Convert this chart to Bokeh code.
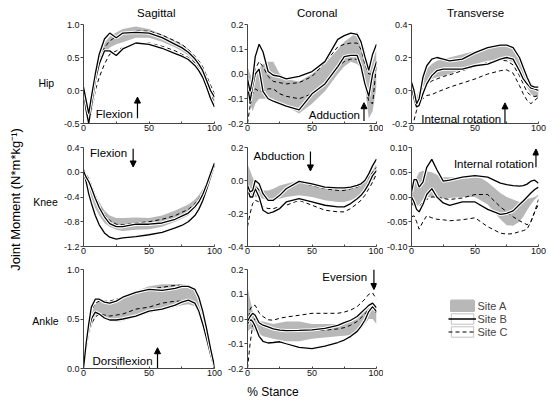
import numpy as np
from bokeh.plotting import figure
from bokeh.layouts import gridplot, row, column
from bokeh.models import (FixedTicker, PrintfTickFormatter, Label, Arrow, NormalHead,
                          Legend, LegendItem, Range1d)
from bokeh.core.validation import silence
from bokeh.core.validation.warnings import MISSING_RENDERERS
from bokeh.embed import file_html
from bokeh.resources import INLINE

silence(MISSING_RENDERERS, True)

# ---------------- data (% stance grid and joint moments) ----------------
stance = [0, 2, 4, 6, 9, 12, 16, 20, 25, 30, 40, 50, 60, 70, 75, 80, 85, 88, 91, 94, 97, 100]

# Hip sagittal
hip_sag_a_hi = [0.0, -0.15, -0.3, -0.05, 0.3, 0.52, 0.72, 0.82, 0.88, 0.93, 0.97, 0.93, 0.85, 0.75, 0.7, 0.63, 0.52, 0.45, 0.35, 0.22, 0.05, -0.1]
hip_sag_a_lo = [-0.1, -0.35, -0.45, -0.3, 0.1, 0.35, 0.55, 0.65, 0.7, 0.73, 0.8, 0.8, 0.74, 0.65, 0.6, 0.53, 0.42, 0.35, 0.25, 0.12, -0.05, -0.2]
hip_sag_b_hi = [0.05, -0.15, -0.35, -0.1, 0.25, 0.55, 0.78, 0.87, 0.8, 0.87, 0.88, 0.87, 0.8, 0.7, 0.65, 0.58, 0.48, 0.4, 0.3, 0.15, 0.0, -0.1]
hip_sag_b_lo = [0.0, -0.3, -0.5, -0.25, 0.15, 0.4, 0.6, 0.6, 0.53, 0.63, 0.72, 0.7, 0.64, 0.56, 0.52, 0.47, 0.38, 0.3, 0.2, 0.05, -0.12, -0.25]
hip_sag_c_hi = [-0.05, -0.2, -0.35, -0.2, 0.15, 0.45, 0.65, 0.75, 0.82, 0.86, 0.9, 0.9, 0.84, 0.75, 0.7, 0.62, 0.52, 0.45, 0.36, 0.22, 0.08, -0.05]
hip_sag_c_lo = [-0.1, -0.3, -0.45, -0.35, 0.0, 0.2, 0.4, 0.55, 0.6, 0.65, 0.72, 0.72, 0.67, 0.6, 0.55, 0.5, 0.42, 0.35, 0.25, 0.12, -0.05, -0.2]

# Hip coronal
hip_cor_a_hi = [0.03, 0.0, -0.02, 0.0, 0.02, 0.04, 0.05, 0.05, 0.0, -0.02, -0.03, 0.0, 0.04, 0.1, 0.13, 0.15, 0.17, 0.14, 0.1, 0.0, 0.05, 0.1]
hip_cor_a_lo = [-0.05, -0.12, -0.15, -0.12, -0.1, -0.1, -0.1, -0.1, -0.12, -0.13, -0.16, -0.12, -0.07, 0.0, 0.03, 0.05, 0.04, 0.02, -0.05, -0.18, -0.15, -0.05]
hip_cor_b_hi = [-0.02, -0.07, -0.02, 0.07, 0.12, 0.09, 0.01, -0.005, -0.01, -0.02, -0.01, 0.01, 0.05, 0.14, 0.155, 0.165, 0.16, 0.13, 0.07, 0.015, 0.08, 0.12]
hip_cor_b_lo = [-0.05, -0.11, -0.05, 0.0, 0.02, -0.07, -0.1, -0.11, -0.12, -0.13, -0.145, -0.08, -0.04, 0.03, 0.07, 0.075, 0.075, 0.03, -0.04, -0.09, 0.0, 0.05]
hip_cor_c_hi = [-0.08, -0.12, -0.05, 0.02, 0.05, 0.03, -0.01, -0.03, -0.035, -0.04, -0.035, -0.01, 0.045, 0.11, 0.12, 0.125, 0.125, 0.1, 0.04, 0.0, 0.0, 0.06]
hip_cor_c_lo = [-0.2, -0.13, -0.08, -0.06, -0.07, -0.07, -0.06, -0.06, -0.08, -0.09, -0.1, -0.08, -0.04, 0.03, 0.05, 0.06, 0.06, 0.04, -0.04, -0.11, -0.12, 0.04]

# Hip transverse
hip_tra_a_hi = [0.02, -0.02, -0.04, 0.0, 0.08, 0.13, 0.16, 0.18, 0.19, 0.2, 0.22, 0.24, 0.26, 0.27, 0.27, 0.26, 0.22, 0.17, 0.1, 0.05, 0.02, 0.01]
hip_tra_a_lo = [0.0, -0.04, -0.07, -0.05, 0.02, 0.05, 0.07, 0.08, 0.09, 0.1, 0.13, 0.16, 0.18, 0.19, 0.19, 0.17, 0.12, 0.07, 0.02, -0.02, -0.04, -0.04]
hip_tra_b_hi = [0.05, 0.0, -0.08, -0.05, 0.08, 0.15, 0.19, 0.2, 0.19, 0.18, 0.19, 0.23, 0.26, 0.275, 0.275, 0.26, 0.2, 0.14, 0.08, 0.03, 0.02, 0.02]
hip_tra_b_lo = [0.03, -0.05, -0.1, -0.09, -0.02, 0.04, 0.09, 0.12, 0.13, 0.13, 0.13, 0.15, 0.16, 0.19, 0.2, 0.19, 0.12, 0.07, 0.04, 0.015, 0.01, 0.0]
hip_tra_c_hi = [-0.02, -0.06, -0.07, -0.03, 0.02, 0.035, 0.058, 0.07, 0.085, 0.095, 0.12, 0.145, 0.17, 0.183, 0.18, 0.155, 0.09, 0.04, -0.01, -0.03, -0.037, -0.03]
hip_tra_c_lo = [-0.22, -0.18, -0.12, -0.08, -0.05, -0.03, -0.025, -0.01, 0.005, 0.02, 0.045, 0.07, 0.1, 0.12, 0.125, 0.105, 0.03, -0.02, -0.06, -0.08, -0.06, -0.04]

# Knee sagittal
knee_sag_a_hi = [0.0, -0.06, -0.12, -0.2, -0.35, -0.48, -0.62, -0.7, -0.74, -0.74, -0.73, -0.74, -0.7, -0.62, -0.57, -0.52, -0.44, -0.37, -0.27, -0.14, 0.0, 0.15]
knee_sag_a_lo = [-0.08, -0.2, -0.3, -0.42, -0.58, -0.7, -0.82, -0.88, -0.93, -0.95, -0.93, -0.92, -0.88, -0.8, -0.75, -0.7, -0.6, -0.52, -0.4, -0.25, -0.08, 0.1]
knee_sag_b_hi = [0.02, -0.08, -0.15, -0.25, -0.42, -0.57, -0.72, -0.83, -0.88, -0.88, -0.84, -0.84, -0.82, -0.76, -0.71, -0.66, -0.56, -0.48, -0.36, -0.2, -0.02, 0.15]
knee_sag_b_lo = [0.0, -0.15, -0.35, -0.5, -0.7, -0.85, -0.98, -1.05, -1.08, -1.06, -1.04, -1.01, -0.97, -0.9, -0.86, -0.8, -0.7, -0.6, -0.46, -0.28, -0.08, 0.12]
knee_sag_c_hi = [0.05, -0.03, -0.1, -0.2, -0.38, -0.52, -0.68, -0.78, -0.84, -0.85, -0.82, -0.8, -0.76, -0.7, -0.65, -0.6, -0.51, -0.43, -0.32, -0.17, 0.02, 0.18]
knee_sag_c_lo = [-0.05, -0.2, -0.32, -0.48, -0.68, -0.84, -0.97, -1.05, -1.08, -1.07, -1.03, -1.0, -0.97, -0.9, -0.85, -0.78, -0.68, -0.58, -0.44, -0.28, -0.07, 0.1]

# Knee coronal
knee_cor_a_hi = [0.1, 0.06, 0.02, -0.02, -0.05, -0.06, -0.06, -0.05, -0.03, -0.02, 0.0, -0.02, -0.04, -0.05, -0.05, -0.04, -0.03, -0.02, 0.0, 0.03, 0.06, 0.1]
knee_cor_a_lo = [-0.03, -0.08, -0.1, -0.1, -0.1, -0.11, -0.12, -0.12, -0.11, -0.1, -0.09, -0.1, -0.12, -0.13, -0.13, -0.12, -0.1, -0.09, -0.07, -0.04, 0.0, 0.05]
knee_cor_b_hi = [-0.03, -0.07, -0.06, 0.0, -0.02, -0.08, -0.12, -0.12, -0.09, -0.05, -0.005, -0.02, -0.04, -0.045, -0.045, -0.04, -0.03, -0.02, 0.0, 0.04, 0.09, 0.13]
knee_cor_b_lo = [-0.05, -0.1, -0.1, -0.05, -0.1, -0.18, -0.2, -0.19, -0.17, -0.13, -0.11, -0.13, -0.15, -0.16, -0.16, -0.14, -0.11, -0.09, -0.06, -0.02, 0.03, 0.06]
knee_cor_c_hi = [-0.08, -0.06, -0.04, -0.03, -0.06, -0.09, -0.12, -0.12, -0.09, -0.05, -0.01, -0.03, -0.05, -0.06, -0.06, -0.05, -0.04, -0.03, -0.01, 0.02, 0.05, 0.08]
knee_cor_c_lo = [-0.28, -0.2, -0.14, -0.12, -0.13, -0.16, -0.17, -0.17, -0.16, -0.15, -0.12, -0.15, -0.18, -0.19, -0.19, -0.17, -0.14, -0.12, -0.09, -0.05, -0.01, 0.04]

# Knee transverse
knee_tra_a_hi = [0.01, 0.025, 0.04, 0.05, 0.053, 0.052, 0.05, 0.045, 0.04, 0.04, 0.04, 0.046, 0.03, 0.008, 0.0, -0.005, -0.01, -0.008, -0.004, -0.002, 0.0, 0.005]
knee_tra_a_lo = [-0.01, -0.015, -0.02, -0.015, -0.005, 0.0, 0.0, -0.002, -0.003, -0.002, 0.0, 0.0, -0.015, -0.045, -0.057, -0.058, -0.05, -0.04, -0.027, -0.015, -0.005, 0.003]
knee_tra_b_hi = [0.01, 0.035, 0.035, 0.02, 0.03, 0.06, 0.076, 0.055, 0.032, 0.034, 0.04, 0.043, 0.04, 0.028, 0.025, 0.023, 0.022, 0.023, 0.026, 0.032, 0.034, 0.028]
knee_tra_b_lo = [0.0, -0.01, -0.025, -0.03, -0.015, 0.005, 0.017, 0.0, -0.012, -0.017, -0.01, -0.01, -0.025, -0.035, -0.033, -0.028, -0.015, -0.008, 0.0, 0.008, 0.015, 0.02]
knee_tra_c_hi = [-0.01, -0.02, -0.025, -0.02, -0.01, -0.005, 0.0, 0.0, -0.003, -0.005, -0.002, 0.005, 0.005, -0.02, -0.03, -0.04, -0.048, -0.052, -0.056, -0.05, -0.03, -0.005]
knee_tra_c_lo = [-0.04, -0.038, -0.05, -0.065, -0.05, -0.038, -0.042, -0.045, -0.046, -0.048, -0.046, -0.042, -0.06, -0.073, -0.075, -0.074, -0.07, -0.068, -0.065, -0.05, -0.03, -0.015]

# Ankle sagittal
ank_sag_a_hi = [0.0, 0.2, 0.4, 0.55, 0.65, 0.68, 0.66, 0.66, 0.68, 0.72, 0.78, 0.83, 0.85, 0.85, 0.85, 0.84, 0.8, 0.7, 0.55, 0.38, 0.2, 0.02]
ank_sag_a_lo = [0.0, 0.15, 0.3, 0.42, 0.53, 0.55, 0.5, 0.48, 0.47, 0.48, 0.52, 0.56, 0.59, 0.62, 0.64, 0.65, 0.63, 0.55, 0.42, 0.28, 0.12, 0.0]
ank_sag_b_hi = [0.0, 0.25, 0.45, 0.62, 0.7, 0.7, 0.67, 0.66, 0.68, 0.72, 0.77, 0.8, 0.79, 0.81, 0.83, 0.83, 0.8, 0.72, 0.58, 0.4, 0.2, 0.02]
ank_sag_b_lo = [0.02, 0.2, 0.38, 0.5, 0.57, 0.55, 0.51, 0.49, 0.49, 0.5, 0.53, 0.58, 0.6, 0.64, 0.67, 0.69, 0.66, 0.58, 0.45, 0.3, 0.14, 0.0]
ank_sag_c_hi = [0.05, 0.25, 0.42, 0.58, 0.66, 0.68, 0.68, 0.68, 0.7, 0.72, 0.77, 0.8, 0.82, 0.84, 0.84, 0.83, 0.79, 0.7, 0.55, 0.38, 0.18, 0.0]
ank_sag_c_lo = [0.05, 0.2, 0.35, 0.45, 0.52, 0.55, 0.54, 0.53, 0.54, 0.55, 0.6, 0.62, 0.66, 0.68, 0.68, 0.69, 0.65, 0.57, 0.44, 0.3, 0.13, 0.0]

# Ankle coronal
ank_cor_a_hi = [0.13, 0.08, 0.03, 0.0, -0.01, -0.01, -0.015, -0.02, -0.015, -0.01, -0.01, -0.02, -0.02, -0.02, -0.015, -0.01, 0.0, 0.02, 0.03, 0.045, 0.05, 0.03]
ank_cor_a_lo = [-0.05, -0.04, -0.04, -0.05, -0.06, -0.07, -0.075, -0.08, -0.085, -0.09, -0.09, -0.08, -0.075, -0.07, -0.068, -0.065, -0.05, -0.04, -0.02, 0.0, 0.0, -0.02]
ank_cor_b_hi = [-0.01, 0.01, 0.023, 0.015, -0.015, -0.025, -0.032, -0.04, -0.045, -0.047, -0.046, -0.044, -0.038, -0.026, -0.015, -0.005, 0.01, 0.025, 0.04, 0.055, 0.064, 0.045]
ank_cor_b_lo = [-0.02, 0.0, -0.01, -0.03, -0.07, -0.09, -0.097, -0.095, -0.092, -0.1, -0.115, -0.12, -0.11, -0.095, -0.085, -0.07, -0.05, -0.03, -0.005, 0.03, 0.05, 0.03]
ank_cor_c_hi = [-0.02, 0.04, 0.055, 0.055, 0.025, 0.01, -0.003, -0.005, 0.003, 0.008, 0.015, 0.023, 0.023, 0.023, 0.028, 0.036, 0.05, 0.065, 0.08, 0.1, 0.105, 0.08]
ank_cor_c_lo = [-0.2, -0.1, -0.025, 0.003, -0.01, -0.02, -0.03, -0.038, -0.042, -0.045, -0.045, -0.045, -0.045, -0.04, -0.035, -0.025, -0.01, 0.005, 0.02, 0.04, 0.05, 0.02]

x_ticks = [0, 50, 100]
x_minor = [25, 75]
col_titles = ["Sagittal", "Coronal", "Transverse"]
row_titles = ["Hip", "Knee", "Ankle"]
site_names = ["Site A", "Site B", "Site C"]

# ---------------- styling / layout ----------------
FONT = "Liberation Sans"
GRAY = "#b8b8b8"
AXC = "#444444"
LEFT_W = 60          # width of the left strip (row names, y title)
TOP_H = 19           # height of the top strip (column titles)
BOT_H = 20           # height of the bottom strip (x title)
# (left border, frame width, right border) per column
COLS = [(23, 131, 9), (24, 129, 7), (25, 130, 10)]
# (top border, frame height, bottom border) per row
ROWS = [(5, 99, 13), (11, 99, 13), (10, 99, 14)]
TOTAL_W = LEFT_W + sum(sum(c) for c in COLS)
MID_H = sum(sum(r) for r in ROWS)


def blank(w, h, l=0, r=0, t=0, b=0):
    p = figure(width=w, height=h, toolbar_location=None, output_backend="svg",
               x_axis_location=None, y_axis_location=None,
               min_border_left=l, min_border_right=r, min_border_top=t, min_border_bottom=b,
               x_range=Range1d(0, 1), y_range=Range1d(0, 1))
    p.outline_line_color = None
    p.xgrid.visible = False
    p.ygrid.visible = False
    return p


def panel(ci, ri, yr, yticks, fmt, a_lo, a_hi, b_lo, b_hi, c_lo, c_hi):
    lb, fw, rb = COLS[ci]
    tb, fh, bb = ROWS[ri]
    p = figure(width=lb + fw + rb, height=tb + fh + bb,
               x_range=Range1d(0, 100), y_range=Range1d(yr[0], yr[1]),
               toolbar_location=None, output_backend="svg",
               min_border_left=lb, min_border_right=rb,
               min_border_top=tb, min_border_bottom=bb)
    p.outline_line_color = None
    p.xgrid.visible = False
    p.ygrid.visible = False
    xa = p.xaxis[0]
    ya = p.yaxis[0]
    xa.ticker = FixedTicker(ticks=x_ticks, minor_ticks=x_minor)
    ya.ticker = FixedTicker(ticks=yticks)
    ya.formatter = PrintfTickFormatter(format=fmt)
    for ax in (xa, ya):
        ax.axis_line_color = AXC
        ax.major_tick_line_color = AXC
        ax.minor_tick_line_color = AXC
        ax.major_label_text_font = FONT
        ax.major_label_text_font_size = "9px"
        ax.major_label_text_color = "#111111"
    xa.major_tick_in = 2
    xa.major_tick_out = 0
    xa.minor_tick_in = 2
    xa.minor_tick_out = 0
    xa.major_label_standoff = 1
    ya.major_tick_in = 0
    ya.major_tick_out = 3
    ya.minor_tick_in = 0
    ya.minor_tick_out = 0
    ya.major_label_standoff = 1

    p.varea(x=stance, y1=a_lo, y2=a_hi, fill_color=GRAY, fill_alpha=1.0)
    for yv in (c_lo, c_hi):
        p.line(stance, yv, line_color="black", line_width=1.0, line_dash="4 3")
    for yv in (b_lo, b_hi):
        p.line(stance, yv, line_color="white", line_width=3.4)
        p.line(stance, yv, line_color="black", line_width=1.3)
    return p


def note(p, x, y, text, ax, y0, y1, align="left"):
    p.add_layout(Label(x=x, y=y, x_units="data", y_units="data", text=text,
                       text_font=FONT, text_font_size="11.5px",
                       text_align=align, text_baseline="middle", text_color="black"))
    p.add_layout(Arrow(x_start=ax, y_start=y0, x_end=ax, y_end=y1, line_width=1.2,
                       line_color="black",
                       end=NormalHead(size=6, fill_color="black", line_color="black", line_width=1)))


p11 = panel(0, 0, (-0.5, 1.0), [-0.5, 0.0, 0.5, 1.0], "%.1f",
            hip_sag_a_lo, hip_sag_a_hi, hip_sag_b_lo, hip_sag_b_hi, hip_sag_c_lo, hip_sag_c_hi)
p12 = panel(1, 0, (-0.2, 0.2), [-0.2, -0.1, 0.0, 0.1, 0.2], "%.1f",
            hip_cor_a_lo, hip_cor_a_hi, hip_cor_b_lo, hip_cor_b_hi, hip_cor_c_lo, hip_cor_c_hi)
p13 = panel(2, 0, (-0.2, 0.4), [-0.2, 0.0, 0.2, 0.4], "%.1f",
            hip_tra_a_lo, hip_tra_a_hi, hip_tra_b_lo, hip_tra_b_hi, hip_tra_c_lo, hip_tra_c_hi)
p21 = panel(0, 1, (-1.2, 0.4), [-1.2, -0.8, -0.4, 0.0, 0.4], "%.1f",
            knee_sag_a_lo, knee_sag_a_hi, knee_sag_b_lo, knee_sag_b_hi, knee_sag_c_lo, knee_sag_c_hi)
p22 = panel(1, 1, (-0.4, 0.2), [-0.4, -0.2, 0.0, 0.2], "%.1f",
            knee_cor_a_lo, knee_cor_a_hi, knee_cor_b_lo, knee_cor_b_hi, knee_cor_c_lo, knee_cor_c_hi)
p23 = panel(2, 1, (-0.1, 0.1), [-0.1, -0.05, 0.0, 0.05, 0.1], "%.2f",
            knee_tra_a_lo, knee_tra_a_hi, knee_tra_b_lo, knee_tra_b_hi, knee_tra_c_lo, knee_tra_c_hi)
p31 = panel(0, 2, (0.0, 1.0), [0.0, 0.5, 1.0], "%.1f",
            ank_sag_a_lo, ank_sag_a_hi, ank_sag_b_lo, ank_sag_b_hi, ank_sag_c_lo, ank_sag_c_hi)
p32 = panel(1, 2, (-0.2, 0.2), [-0.2, -0.1, 0.0, 0.1, 0.2], "%.1f",
            ank_cor_a_lo, ank_cor_a_hi, ank_cor_b_lo, ank_cor_b_hi, ank_cor_c_lo, ank_cor_c_hi)

# direction annotations
note(p11, 9.4, -0.35, "Flexion", 41.2, -0.42, -0.1)
note(p12, 47.5, -0.166, "Adduction", 90.3, -0.19, -0.116)
note(p13, 7.7, -0.17, "Internal rotation", 73.6, -0.2, -0.075)
note(p21, 5.0, 0.31, "Flexion", 37.9, 0.38, 0.085)
note(p22, 4.7, 0.149, "Abduction", 48.8, 0.176, 0.058)
note(p23, 33.4, 0.067, "Internal rotation", 98.0, 0.06, 0.097)
note(p31, 6.9, 0.078, "Dorsiflexion", 56.5, 0.004, 0.21)
note(p32, 58.0, 0.169, "Eversion", 98.0, 0.2, 0.119)

# ---- top strip: column titles (baseline about 12.7 px from the top)
top = blank(TOTAL_W, TOP_H)
for t, xc in zip(col_titles, (155.8, 316.7, 475.0)):
    top.add_layout(Label(x=xc, y=TOP_H - 12.7, x_units="screen", y_units="screen", text=t,
                         text_font=FONT, text_font_size="11.5px", text_align="center",
                         text_baseline="alphabetic", text_color="black"))

# ---- left strip: row names and y title (screen y measured from strip bottom)
left = blank(LEFT_W, MID_H)
strip_bottom = TOP_H + MID_H
for t, xc, yc in zip(row_titles, (45.8, 45.0, 45.0), (82.0, 201.0, 320.0)):
    left.add_layout(Label(x=xc, y=strip_bottom - yc, x_units="screen", y_units="screen", text=t,
                          text_font=FONT, text_font_size="10.5px", text_align="center",
                          text_baseline="middle", text_color="black"))
left.add_layout(Label(x=15, y=strip_bottom - 199, x_units="screen", y_units="screen",
                      text="Joint Moment (N*m*kg\u207b\u00b9)", angle=np.pi / 2,
                      text_font=FONT, text_font_size="13px", text_align="center",
                      text_baseline="middle", text_color="black"))

# ---- bottom strip: x title
bottom = blank(TOTAL_W, BOT_H)
bottom.add_layout(Label(x=272.5, y=strip_bottom + BOT_H - 391.7, x_units="screen", y_units="screen",
                        text="% Stance", text_font=FONT, text_font_size="12px",
                        text_align="center", text_baseline="middle", text_color="black"))

# ---- legend panel: same borders as its grid neighbours so frames stay aligned
lb3, fw3, rb3 = COLS[2]
tb3, fh3, bb3 = ROWS[2]
pl = blank(lb3 + fw3 + rb3, tb3 + fh3 + bb3, l=lb3, r=rb3, t=tb3, b=bb3)
nan = np.array([np.nan])
ra = pl.rect(x=nan, y=nan, width=1, height=1, fill_color=GRAY, line_color=GRAY, line_width=2.6)
rb1 = pl.rect(x=nan, y=nan, width=1, height=1, fill_color="white", line_color="#c4c4c4", line_width=1)
rb2 = pl.line(x=nan, y=nan, line_color="black", line_width=1.5)
rc1 = pl.rect(x=nan, y=nan, width=1, height=1, fill_color="white", line_color="#c4c4c4", line_width=1)
rc2 = pl.line(x=nan, y=nan, line_color="black", line_width=1.0, line_dash="4 3")
# location: (px from frame left, px from frame bottom to legend bottom)
leg = Legend(items=[LegendItem(label=site_names[0], renderers=[ra]),
                    LegendItem(label=site_names[1], renderers=[rb1, rb2]),
                    LegendItem(label=site_names[2], renderers=[rc1, rc2])],
             location=(36.5, 30), glyph_width=28, glyph_height=13, spacing=0,
             padding=0, margin=0, label_standoff=2, label_height=13,
             label_text_font=FONT, label_text_font_size="11px",
             border_line_color=None, background_fill_alpha=0)
pl.add_layout(leg)

grid = gridplot([[p11, p12, p13], [p21, p22, p23], [p31, p32, pl]], toolbar_location=None)
layout = column(top, row(left, grid), bottom)

open("out.html", "w").write(file_html(layout, INLINE))
